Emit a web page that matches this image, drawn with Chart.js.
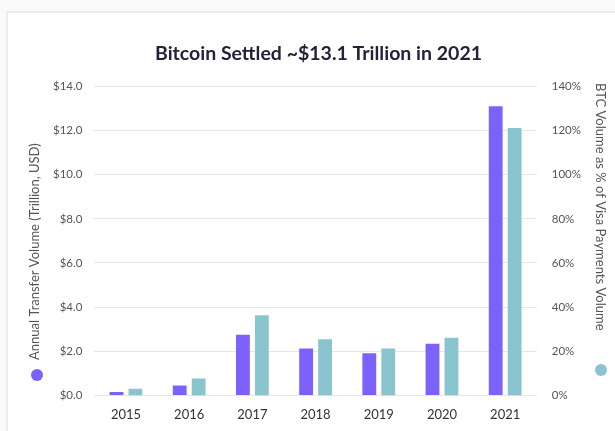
<!DOCTYPE html>
<html>
<head>
<meta charset="utf-8">
<script src="https://cdn.jsdelivr.net/npm/chart.js@4"></script>
<style>
  html, body { margin: 0; padding: 0; background: #fafafa; }
  #card { position: absolute; left: 6px; top: 11px; width: 640px; height: 440px;
          background: #fff; border-left: 2px solid #ececec; border-top: 2px solid #ececec; }
  #wrap { position: absolute; left: 0; top: 0; width: 615px; height: 431px; }
</style>
</head>
<body>
<div id="card"></div>
<div id="wrap"><canvas id="chart"></canvas></div>
<script>
var years = ["2015", "2016", "2017", "2018", "2019", "2020", "2021"];
var transferVolume = [0.15, 0.45, 2.75, 2.13, 1.91, 2.34, 13.1];
var visaPercent = [3.0, 7.7, 36.3, 25.4, 21.2, 26.1, 121.2];
var leftTitle = "Annual Transfer Volume (Trillion, USD)";
var rightTitle = "BTC Volume as % of Visa Payments Volume";

var purple = "#7c62fb";
var teal = "#8ac4ce";

// rotated axis titles with their legend dots
var sideTitles = {
    id: "sideTitles",
    afterDraw: function(chart) {
        var ctx = chart.ctx;
        ctx.save();
        ctx.font = "13px Lato";
        ctx.fillStyle = "#555";
        ctx.textBaseline = "middle";

        ctx.save();
        ctx.translate(35, 360);
        ctx.rotate(-Math.PI / 2);
        ctx.textAlign = "left";
        ctx.fillText(leftTitle, 0, 0);
        ctx.restore();
        ctx.beginPath();
        ctx.arc(37, 375, 6, 0, Math.PI * 2);
        ctx.fillStyle = purple;
        ctx.fill();

        ctx.fillStyle = "#555";
        ctx.save();
        ctx.translate(600, 83);
        ctx.rotate(Math.PI / 2);
        ctx.textAlign = "left";
        ctx.fillText(rightTitle, 0, 0);
        ctx.restore();
        ctx.beginPath();
        ctx.arc(601, 370, 6, 0, Math.PI * 2);
        ctx.fillStyle = teal;
        ctx.fill();
        ctx.restore();
    }
};

new Chart(document.getElementById("chart"), {
    type: "bar",
    data: {
        labels: years,
        datasets: [{
            label: "Annual Transfer Volume",
            data: transferVolume,
            backgroundColor: purple,
            yAxisID: "y",
            categoryPercentage: 0.6,
            barPercentage: 0.73
        }, {
            label: "BTC as % of Visa",
            data: visaPercent,
            backgroundColor: teal,
            yAxisID: "y1",
            categoryPercentage: 0.6,
            barPercentage: 0.73
        }]
    },
    options: {
        responsive: true,
        maintainAspectRatio: false,
        animation: false,
        layout: { padding: { left: 41, right: 19, top: 42, bottom: 4 } },
        plugins: {
            legend: { display: false },
            tooltip: { enabled: false },
            title: {
                display: true,
                text: "Bitcoin Settled ~$13.1 Trillion in 2021",
                color: "#22223a",
                font: { family: "Lato", size: 19.5, weight: "bold" },
                padding: { top: 0, bottom: 21 }
            }
        },
        scales: {
            x: {
                grid: { display: false },
                border: { display: false },
                ticks: { color: "#333", font: { family: "Lato", size: 13 }, padding: 4 }
            },
            y: {
                position: "left",
                min: 0, max: 14,
                ticks: {
                    stepSize: 2,
                    color: "#555",
                    font: { family: "Lato", size: 11.5 },
                    padding: 12,
                    callback: function(v) { return "$" + v.toFixed(1); }
                },
                grid: { color: "#e6e6e6", drawTicks: false },
                border: { display: false }
            },
            y1: {
                position: "right",
                min: 0, max: 140,
                ticks: {
                    stepSize: 20,
                    color: "#555",
                    font: { family: "Lato", size: 11.5 },
                    padding: 15,
                    callback: function(v) { return v + "%"; }
                },
                grid: { display: false, drawTicks: false },
                border: { display: false }
            }
        }
    },
    plugins: [sideTitles]
});
</script>
</body>
</html>
